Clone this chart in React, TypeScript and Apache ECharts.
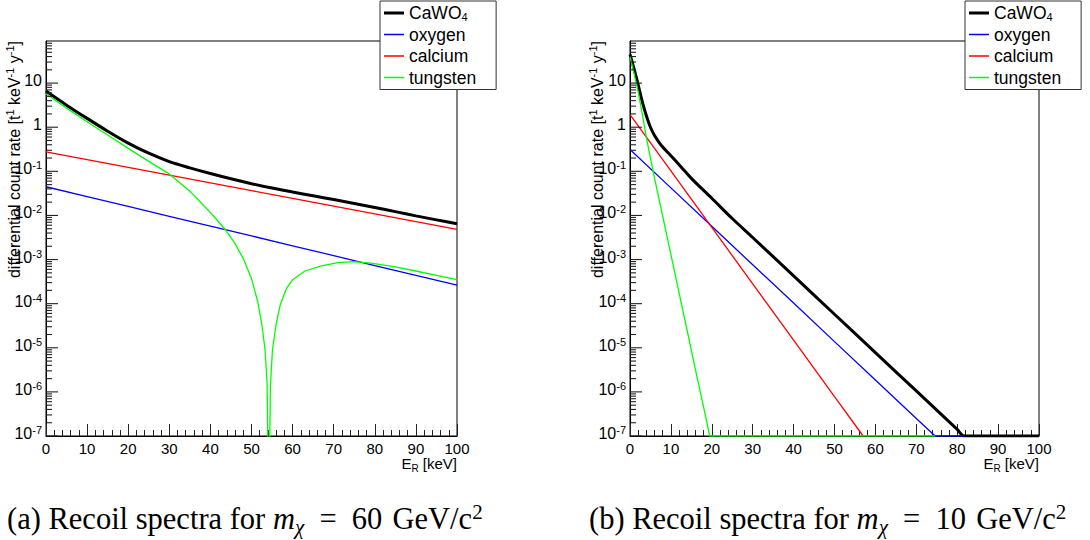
import React, { useEffect, useRef } from 'react';
import * as echarts from 'echarts';

// ---------- data ----------
const SERIES_NAMES = ['CaWO4', 'oxygen', 'calcium', 'tungsten'];
const SERIES_COLORS = ['#000000', '#0000ff', '#ff0000', '#00ff00'];

// panel (a): m_chi = 60 GeV/c^2   [E_R keV, rate]
const A_CAWO4 = [
  [0, 6.61], [5, 3.16], [10, 1.585], [15, 0.813], [20, 0.437], [25, 0.257], [30, 0.166],
  [35, 0.12], [40, 0.0891], [45, 0.0676], [50, 0.0525], [55, 0.0417], [60, 0.0339],
  [65, 0.0279], [70, 0.0229], [75, 0.0186], [80, 0.0151], [85, 0.0122], [90, 0.00977],
  [95, 0.00794], [100, 0.00646],
];
const A_OXYGEN = [
  [0, 0.0447], [10, 0.0267], [20, 0.016], [30, 0.00957], [40, 0.00573], [50, 0.00343],
  [60, 0.00205], [70, 0.00123], [80, 7.3e-4], [90, 4.4e-4], [100, 2.63e-4],
];
const A_CALCIUM = [
  [0, 0.277], [10, 0.1845], [20, 0.123], [30, 0.082], [40, 0.0547], [50, 0.0365],
  [60, 0.0243], [70, 0.0162], [80, 0.0108], [90, 0.00721], [100, 0.00481],
];
const A_TUNGSTEN = [
  [0, 5.71], [5, 2.71], [10, 1.33], [15, 0.665], [20, 0.331], [25, 0.168], [30, 0.0873],
  [35, 0.0355], [40, 0.0117], [43.7, 0.00468], [46, 0.00229], [48, 0.00105], [50, 3.7e-4],
  [51.5, 1.12e-4], [52.5, 3.5e-5], [53.3, 8.9e-6], [53.8, 1.6e-6], [54.2, 1e-9],
  [54.6, 1.4e-6], [55.1, 8.9e-6], [56, 3.5e-5], [57, 9.5e-5], [58.5, 2.2e-4], [60, 3.5e-4],
  [63, 5.5e-4], [67, 7.2e-4], [71, 8.5e-4], [75, 9.0e-4], [79, 8.3e-4], [85, 6.8e-4],
  [90, 5.5e-4], [95, 4.4e-4], [100, 3.5e-4],
];

// panel (b): m_chi = 10 GeV/c^2
const B_CAWO4 = [
  [0, 44.7], [1, 20.9], [2, 9.12], [3, 3.8], [4, 1.82], [5, 1.0], [6, 0.646], [7, 0.468],
  [8, 0.355], [9, 0.282], [10, 0.226], [12.5, 0.126], [15, 0.0692], [20, 0.0245],
  [25, 0.00851], [30, 0.00316], [40, 4.27e-4], [50, 5.75e-5], [60, 7.76e-6], [70, 1.05e-6],
  [80, 1.41e-7], [81.7, 1e-7], [100, 1e-7],
];
const B_OXYGEN = [
  [0, 0.313], [10, 0.0421], [20, 0.00566], [30, 7.62e-4], [40, 1.03e-4], [50, 1.38e-5],
  [60, 1.86e-6], [70, 2.5e-7], [74.6, 1e-7], [81.7, 1e-7],
];
const B_CALCIUM = [
  [0, 1.94], [10, 0.102], [20, 0.00537], [30, 2.82e-4], [40, 1.49e-5], [50, 7.8e-7], [57, 1e-7],
];
const B_TUNGSTEN = [
  [0, 39.8], [1, 16.6], [2, 6.3], [3, 2.0], [4, 0.59], [5, 0.2], [6, 0.07], [8, 9.5e-3],
  [10, 1.29e-3], [12, 1.78e-4], [14, 2.4e-5], [16, 3.2e-6], [18, 4.5e-7], [19.5, 1e-7],
  [74.6, 1e-7],
];

const PANELS = [
  { series: [A_CAWO4, A_OXYGEN, A_CALCIUM, A_TUNGSTEN], caption: '(a) Recoil spectra for {it|m}{sub|χ}\u2002=\u200260\u2004GeV/c{sup|2}' },
  { series: [B_CAWO4, B_OXYGEN, B_CALCIUM, B_TUNGSTEN], caption: '(b) Recoil spectra for {it|m}{sub|χ}\u2002=\u200210\u2004GeV/c{sup|2}' },
];

const X_MIN = 0;
const X_MAX = 100;
const X_INTERVAL = 10;
const Y_MIN = 1e-7;
const Y_MAX = 90;
const Y_DECADE_EXPS = [-7, -6, -5, -4, -3, -2, -1, 0, 1];
const Y_MINOR_MULTS = [2, 3, 4, 5, 6, 7, 8, 9];

// ---------- layout ----------
const FONT = '"Liberation Sans", Arial, Helvetica, sans-serif';
const SERIF = '"Liberation Serif", "Times New Roman", serif';
const GRIDS = [
  { left: 46, top: 41, width: 411, height: 395 },
  { left: 630, top: 41, width: 409, height: 395 },
];
const LEGEND_LEFT = [380, 965];
const YTITLE_X = [14, 597];
const CAPTION_X = [7, 589];
const TICK_COLOR = '#222';
const MAJOR_TICK_LEN = 12;
const MINOR_TICK_LEN = 6;
// legend line icons: invisible corner dots fix the bounding box, the bar is the visible line
const ICON_THICK = 'path://M0,0L0.01,0L0,0.01Z M20,14L19.99,14L20,13.99Z M0,5.5H20V8.5H0Z';
const ICON_THIN = 'path://M0,0L0.01,0L0,0.01Z M20,14L19.99,14L20,13.99Z M0,6.35H20V7.65H0Z';

const logLabel = (v: number) => {
  const l = Math.log10(v);
  const n = Math.round(l);
  if (Math.abs(l - n) > 1e-6) return '';
  if (n === 0) return '{b|1}';
  if (n === 1) return '{b|10}';
  return `{b|10}{sup|${n}}`;
};

export default function App() {
  const ref = useRef<HTMLDivElement>(null);
  useEffect(() => {
    if (!ref.current) return;
    const chart = echarts.init(ref.current, undefined, { renderer: 'svg' });

    const majorVals = Y_DECADE_EXPS.map((e) => Math.pow(10, e));
    const minorVals = Y_DECADE_EXPS.flatMap((e) => Y_MINOR_MULTS.map((m) => m * Math.pow(10, e))).filter(
      (v) => v < Y_MAX
    );

    const series: any[] = [];
    PANELS.forEach((p, i) => {
      p.series.forEach((data, k) => {
        series.push({
          type: 'line',
          name: SERIES_NAMES[k],
          xAxisIndex: i,
          yAxisIndex: i,
          data,
          showSymbol: false,
          symbol: 'none',
          smooth: k === 0 ? 0.3 : false,
          clip: true,
          lineStyle: { color: SERIES_COLORS[k], width: k === 0 ? 3 : 1.3 },
          itemStyle: { color: SERIES_COLORS[k] },
          z: 3 + k,
          silent: true,
        });
      });
    });

    const graphic: any[] = [];
    PANELS.forEach((p, i) => {
      const g = GRIDS[i];
      graphic.push({
        type: 'text',
        x: YTITLE_X[i],
        y: g.top,
        rotation: Math.PI / 2,
        style: {
          text: 'differential count rate [t{sup|1} keV{sup|-1} y{sup|-1}]',
          fontFamily: FONT,
          fontSize: 16,
          fill: '#000',
          align: 'right',
          verticalAlign: 'middle',
          lineHeight: 19,
          rich: {
            sup: { fontSize: 11, fontFamily: FONT, lineHeight: 11, verticalAlign: 'top', fill: '#000' },
          },
        },
      });
      graphic.push({
        type: 'text',
        x: g.left + g.width,
        y: 463,
        style: {
          text: 'E{sub|R} [keV]',
          fontFamily: FONT,
          fontSize: 15,
          fill: '#000',
          align: 'right',
          verticalAlign: 'middle',
          lineHeight: 20,
          rich: {
            sub: { fontSize: 10, fontFamily: FONT, lineHeight: 10, verticalAlign: 'bottom', fill: '#000' },
          },
        },
      });
      graphic.push({
        type: 'text',
        x: CAPTION_X[i],
        y: 519,
        style: {
          text: p.caption,
          fontFamily: SERIF,
          fontSize: 30.5,
          fill: '#000',
          align: 'left',
          verticalAlign: 'middle',
          lineHeight: 36,
          rich: {
            it: { fontFamily: SERIF, fontStyle: 'italic', fontSize: 30.5, lineHeight: 36, fill: '#000' },
            sub: { fontFamily: SERIF, fontStyle: 'italic', fontSize: 21, lineHeight: 26, verticalAlign: 'bottom', fill: '#000' },
            sup: { fontFamily: SERIF, fontSize: 21, lineHeight: 26, verticalAlign: 'top', fill: '#000' },
          },
        },
      });
    });

    chart.setOption({
      animation: false,
      backgroundColor: '#ffffff',
      grid: GRIDS.map((g) => ({ ...g, show: true, borderColor: '#000', borderWidth: 1, containLabel: false })),
      xAxis: GRIDS.map((_, i) => ({
        type: 'value',
        gridIndex: i,
        min: X_MIN,
        max: X_MAX,
        interval: X_INTERVAL,
        axisLine: { show: true, onZero: false, lineStyle: { color: '#000', width: 1 } },
        axisTick: { show: true, inside: true, length: MAJOR_TICK_LEN, lineStyle: { color: TICK_COLOR } },
        minorTick: { show: true, splitNumber: 5, length: MINOR_TICK_LEN, lineStyle: { color: TICK_COLOR } },
        splitLine: { show: false },
        axisLabel: { fontFamily: FONT, fontSize: 15, color: '#000', margin: 5 },
      })),
      yAxis: GRIDS.map((_, i) => ({
        type: 'log',
        gridIndex: i,
        min: Y_MIN,
        max: Y_MAX,
        logBase: 10,
        axisLine: { show: true, onZero: false, lineStyle: { color: '#000', width: 1 } },
        axisTick: { show: false },
        splitLine: { show: false },
        axisLabel: {
          formatter: logLabel,
          margin: 4,
          color: '#000',
          fontFamily: FONT,
          fontSize: 16,
          lineHeight: 22,
          padding: [0, 0, 6, 0],
          rich: {
            b: { fontFamily: FONT, fontSize: 16, lineHeight: 17, verticalAlign: 'bottom', color: '#000' },
            sup: { fontFamily: FONT, fontSize: 11, lineHeight: 11, verticalAlign: 'top', color: '#000' },
          },
        },
      })),
      legend: GRIDS.map((_, i) => ({
        data: SERIES_NAMES.map((n, k) => ({ name: n, icon: k === 0 ? ICON_THICK : ICON_THIN })),
        orient: 'vertical',
        left: LEGEND_LEFT[i],
        top: 1,
        padding: [3, 20, 3, 4],
        itemWidth: 20,
        itemHeight: 14,
        itemGap: 3.5,
        backgroundColor: '#ffffff',
        borderColor: '#333',
        borderWidth: 1,
        selectedMode: false,
        z: 20,
        formatter: (name: string) => (name === 'CaWO4' ? 'CaWO{sub|4}' : name),
        textStyle: {
          fontFamily: FONT,
          fontSize: 17.5,
          color: '#000',
          lineHeight: 18,
          rich: {
            sub: { fontFamily: FONT, fontSize: 11, lineHeight: 12, verticalAlign: 'bottom', color: '#000' },
          },
        },
      })),
      series,
      graphic,
    });

    // log-spaced y-axis tick marks, positioned through the chart's own axis conversion
    const ticks: any[] = [];
    GRIDS.forEach((g, i) => {
      const lmin = Math.log10(Y_MIN);
      const lmax = Math.log10(Y_MAX);
      const add = (v: number, len: number) => {
        let y = g.top + (g.height * (lmax - Math.log10(v))) / (lmax - lmin);
        try {
          const pt = chart.convertToPixel({ xAxisIndex: i, yAxisIndex: i } as any, [X_MIN, v]) as any;
          if (pt && isFinite(pt[1]) && Math.abs(pt[1] - y) < 3) y = pt[1];
        } catch (e) {
          /* keep axis-range position */
        }
        ticks.push({
          type: 'line',
          z: 50,
          silent: true,
          shape: { x1: g.left, y1: y, x2: g.left + len, y2: y },
          style: { stroke: TICK_COLOR, lineWidth: 1.1 },
        });
      };
      majorVals.forEach((v) => add(v, MAJOR_TICK_LEN));
      minorVals.forEach((v) => add(v, MINOR_TICK_LEN));
    });
    chart.setOption({ graphic: [...graphic, ...ticks] });

    return () => chart.dispose();
  }, []);
  return <div ref={ref} style={{ position: 'fixed', left: 0, top: 0, width: 1090, height: 540 }} />;
}
